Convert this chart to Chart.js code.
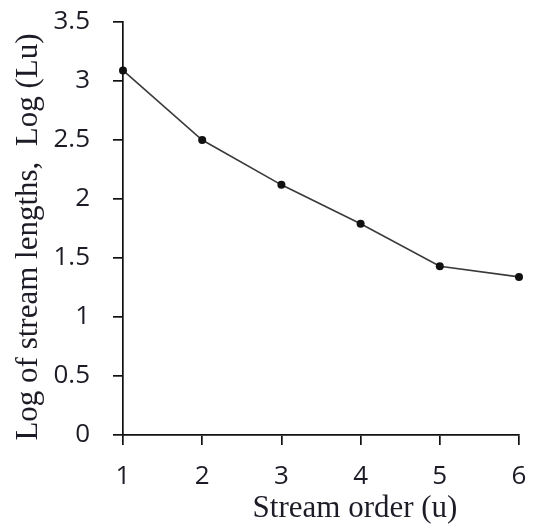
<!DOCTYPE html>
<html>
<head>
<meta charset="utf-8">
<script src="https://cdn.jsdelivr.net/npm/chart.js@4.4.1/dist/chart.umd.min.js"></script>
<style>
  html, body { margin: 0; padding: 0; background: #fff; }
  #wrap { width: 534px; height: 528px; }
</style>
</head>
<body>
<div id="wrap"><canvas id="orderChart" width="534" height="528"></canvas></div>
<script>
// stream order vs log of total stream length
var streamOrders = [1, 2, 3, 4, 5, 6];
var logLengths = [3.09, 2.50, 2.12, 1.79, 1.43, 1.34];
var yTicks = [0, 0.5, 1, 1.5, 2, 2.5, 3, 3.5];

var xTitle = "Stream order (u)";
var yTitle = "Log of stream lengths,  Log (Lu)";

var ink = "#1c1c26";
var axisInk = "#111";

// axis titles drawn by hand so they can sit off-centre
var axisTitles = {
	id: "axisTitles",
	afterDraw: function(chart) {
		var ctx = chart.ctx;
		ctx.save();
		ctx.fillStyle = ink;
		ctx.font = "31px 'Liberation Serif', 'Times New Roman', serif";
		ctx.textAlign = "center";
		ctx.textBaseline = "alphabetic";
		ctx.fillText(xTitle, 355, 517);

		ctx.translate(37, 237);
		ctx.rotate(-Math.PI / 2);
		ctx.fillText(yTitle, 0, 0);
		ctx.restore();
	}
};

var points = streamOrders.map(function(u, i) {
	return {x: u, y: logLengths[i]};
});

new Chart(document.getElementById("orderChart"), {
	type: "line",
	data: {
		datasets: [{
			data: points,
			borderColor: "#3a3a3a",
			borderWidth: 1.6,
			pointRadius: 4,
			pointBackgroundColor: "#111",
			pointBorderColor: "#111",
			pointBorderWidth: 0,
			tension: 0,
			clip: false
		}]
	},
	plugins: [axisTitles],
	options: {
		responsive: false,
		animation: false,
		layout: {padding: {left: 0, top: 22, right: 15, bottom: 0}},
		plugins: {legend: {display: false}, tooltip: {enabled: false}},
		scales: {
			x: {
				type: "linear",
				min: 1,
				max: 6,
				// fixed band height, no extra edge padding from labels
				afterFit: function(scale) {
					scale.height = 93;
					scale.paddingLeft = 0;
					scale.paddingRight = 0;
				},
				afterBuildTicks: function(scale) {
					scale.ticks = streamOrders.map(function(v) { return {value: v}; });
				},
				border: {color: axisInk, width: 1.7},
				grid: {drawOnChartArea: false, drawTicks: true, tickLength: 10, color: axisInk, lineWidth: 1.7},
				ticks: {color: ink, padding: 16, maxRotation: 0, font: {family: "'Open Sans'", size: 26},
					callback: function(v) { return String(v); }}
			},
			y: {
				min: 0,
				max: 3.5,
				afterFit: function(scale) {
					scale.width = 123;
					scale.paddingTop = 0;
					scale.paddingBottom = 0;
				},
				afterBuildTicks: function(scale) {
					scale.ticks = yTicks.map(function(v) { return {value: v}; });
				},
				border: {color: axisInk, width: 1.7},
				grid: {drawOnChartArea: false, drawTicks: true, tickLength: 10, color: axisInk, lineWidth: 1.7},
				ticks: {color: ink, padding: 23, font: {family: "'Open Sans'", size: 26},
					callback: function(v) { return String(v); }}
			}
		}
	}
});
</script>
</body>
</html>
